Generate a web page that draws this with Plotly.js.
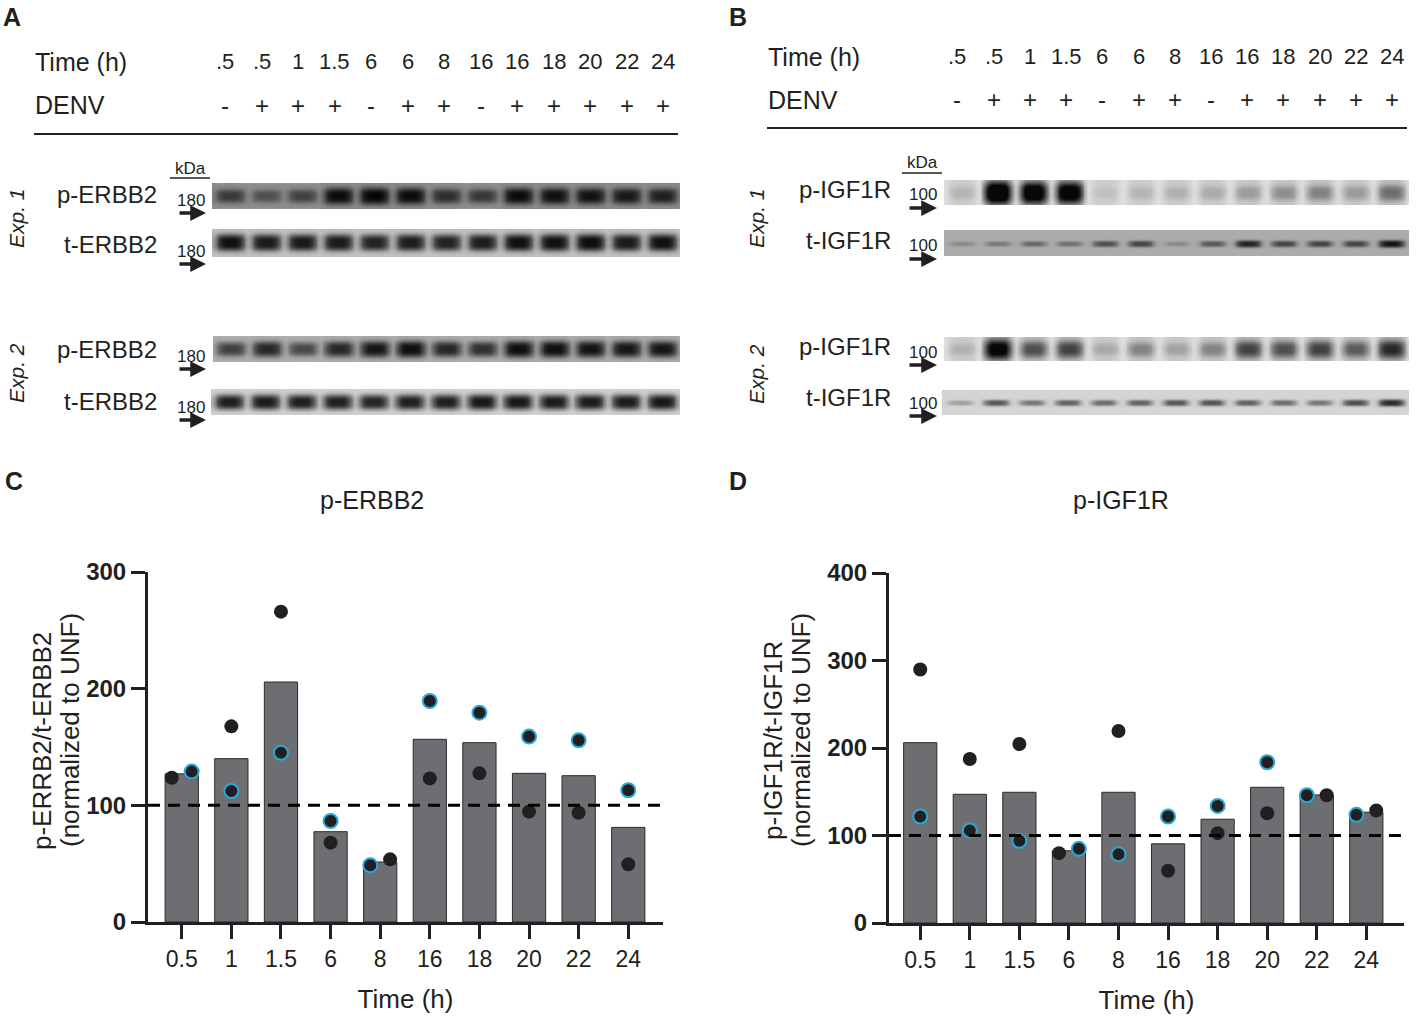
<!DOCTYPE html>
<html>
<head>
<meta charset="utf-8">
<script src="https://cdn.plot.ly/plotly-3.0.1.min.js"></script>
<style>html,body{margin:0;padding:0;background:#fff;}#chart{width:1417px;height:1021px;}</style>
</head>
<body>
<div id="chart"></div>
<script>
// ---------------- DATA ----------------
const laneTimes = ['.5','.5','1','1.5','6','6','8','16','16','18','20','22','24'];
const laneDenv  = ['-','+','+','+','-','+','+','-','+','+','+','+','+'];

// band intensities (0 = none, 1 = saturated), read from the blots
const erbbExp1P = [0.60,0.45,0.55,0.95,1.00,0.95,0.70,0.62,0.95,0.92,0.90,0.85,0.80];
const erbbExp1T = [0.95,0.90,0.90,0.90,0.85,0.88,0.85,0.88,0.95,0.95,0.97,0.90,0.95];
const erbbExp2P = [0.65,0.80,0.60,0.80,0.90,0.95,0.80,0.75,0.95,0.95,0.92,0.90,0.90];
const erbbExp2T = [0.88,0.90,0.88,0.88,0.85,0.88,0.88,0.92,0.92,0.90,0.90,0.90,0.92];
const igfExp1P  = [0.10,1.00,0.92,0.90,0.06,0.10,0.12,0.14,0.20,0.25,0.30,0.20,0.38];
const igfExp1T  = [0.20,0.30,0.40,0.35,0.55,0.62,0.20,0.50,0.82,0.62,0.62,0.62,0.92];
const igfExp2P  = [0.12,0.85,0.50,0.55,0.15,0.30,0.18,0.30,0.55,0.50,0.55,0.45,0.65];
const igfExp2T  = [0.25,0.60,0.45,0.55,0.50,0.55,0.60,0.62,0.55,0.50,0.45,0.65,0.82];

// quantification
const timeCats   = ['0.5','1','1.5','6','8','16','18','20','22','24'];
const erbbMean   = [127, 140, 205.7, 77.4, 51.4, 156.6, 153.7, 127.4, 125.4, 81.1];
const erbbBlack  = [123.7, 167.7, 266, 68, 53.7, 123.1, 127.4, 94.6, 93.7, 49.4];
const erbbCyan   = [128.9, 112.3, 145.1, 86.6, 48.6, 189.4, 179.4, 158.9, 155.7, 112.9];
const igfMean    = [206.1, 147.1, 149.4, 82.5, 149.4, 90.5, 118.6, 155.1, 146.4, 126.6];
const igfBlack   = [289.7, 187.5, 204.6, 79.8, 219.4, 59.7, 102.7, 125.5, 146, 128.5];
const igfCyan    = [121.7, 105.7, 93.9, 84.8, 78.7, 121.7, 133.8, 183.7, 146, 123.6];

// ---------------- HELPERS ----------------
const W = 1417, H = 1021;
const FONT = 'Liberation Sans, Arial, Helvetica, sans-serif';
const INK = '#231f20';
const px = x => x / W;
const py = y => 1 - y / H;

const annotations = [];
const shapes = [];
function txt(x, y, text, size, opts) {
  opts = opts || {};
  annotations.push(Object.assign({
    xref:'paper', yref:'paper', x:px(x), y:py(y), text:text, showarrow:false,
    xanchor:'center', yanchor:'middle',
    font:{family:FONT, size:size, color:INK}
  }, opts));
}
function hline(x0, x1, y, w) {
  shapes.push({type:'line', xref:'paper', yref:'paper', x0:px(x0), x1:px(x1), y0:py(y), y1:py(y),
               line:{color:INK, width:w}});
}
function arrow(xTail, xTip, y) {
  annotations.push({xref:'paper', yref:'paper', x:px(xTip), y:py(y), ax:xTail - xTip, ay:0,
    axref:'pixel', ayref:'pixel', text:'', showarrow:true, arrowhead:2, arrowsize:0.9,
    arrowwidth:3.5, arrowcolor:INK, standoff:0, startstandoff:0});
}

const traces = [];
const layout = {
  width:W, height:H, margin:{l:0, r:0, t:0, b:0},
  paper_bgcolor:'#ffffff', plot_bgcolor:'rgba(0,0,0,0)', showlegend:false,
  font:{family:FONT, color:INK}
};

// ---------------- BLOT STRIPS ----------------
const styles = {
  erbbP1: {bg:0.45, cy:0.47, wy:0.33, wx:0.42, smear:0.0},
  erbbP2: {bg:0.32, cy:0.47, wy:0.33, wx:0.42, smear:0.0},
  erbbT1: {bg:0.24, cy:0.47, wy:0.32, wx:0.42, smear:0.0},
  erbbT2: {bg:0.18, cy:0.47, wy:0.31, wx:0.42, smear:0.0},
  igfP:   {bg:0.12, cy:0.50, wy:0.42, wx:0.39, smear:0.20},
  igfT1:  {bg:0.33, cy:0.50, wy:0.15, wx:0.36, smear:0.0},
  igfT2:  {bg:0.17, cy:0.50, wy:0.15, wx:0.36, smear:0.0}
};
const strips = [
  {vals:erbbExp1P, st:styles.erbbP1, x0:212, x1:680, y0:183, y1:209},
  {vals:erbbExp1T, st:styles.erbbT1, x0:212, x1:680, y0:229, y1:257},
  {vals:erbbExp2P, st:styles.erbbP2, x0:213, x1:680, y0:336, y1:362},
  {vals:erbbExp2T, st:styles.erbbT2, x0:211, x1:680, y0:389, y1:415},
  {vals:igfExp1P,  st:styles.igfP,   x0:944, x1:1409, y0:180, y1:205},
  {vals:igfExp1T,  st:styles.igfT1,  x0:944, x1:1409, y0:230, y1:256},
  {vals:igfExp2P,  st:styles.igfP,   x0:944, x1:1409, y0:337, y1:361},
  {vals:igfExp2T,  st:styles.igfT2,  x0:942, x1:1409, y0:390, y1:415}
];

strips.forEach((s, k) => {
  const n = s.vals.length, sub = 20, ny = 26;
  const xs = [], ys = [], z = [];
  for (let i = 0; i < n * sub; i++) xs.push((i + 0.5) / sub);
  for (let j = 0; j < ny; j++) ys.push((j + 0.5) / ny);
  for (let j = 0; j < ny; j++) {
    const row = [];
    const fromTop = 1 - ys[j];
    for (let i = 0; i < xs.length; i++) {
      const lane = Math.min(n - 1, Math.floor(xs[i]));
      const I = s.vals[lane];
      const dx = xs[i] - (lane + 0.5);
      const wy = s.st.wy * (0.55 + 0.45 * I);
      const fx = Math.exp(-Math.pow(Math.abs(dx) / s.st.wx, 4));
      const fy = Math.exp(-Math.pow(Math.abs(fromTop - s.st.cy) / wy, 3));
      let d = I * fx * fy + s.st.smear * (0.4 + I) * fx;
      d = Math.min(1, d);
      row.push(s.st.bg + (1 - s.st.bg) * 0.97 * d);
    }
    z.push(row);
  }
  const ax = k + 3;
  traces.push({type:'heatmap', x:xs, y:ys, z:z, xaxis:'x' + ax, yaxis:'y' + ax,
    colorscale:[[0,'#ffffff'],[1,'#000000']], zmin:0, zmax:1, showscale:false,
    zsmooth:'best', hoverinfo:'skip'});
  layout['xaxis' + ax] = {domain:[px(s.x0), px(s.x1)], range:[0, n], visible:false,
    fixedrange:true, anchor:'y' + ax};
  layout['yaxis' + ax] = {domain:[py(s.y1), py(s.y0)], range:[0, 1], visible:false,
    fixedrange:true, anchor:'x' + ax};
});

// ---------------- BLOT TEXT ----------------
function blotPanel(cfg) {
  txt(cfg.left, cfg.timeY, 'Time (h)', 25, {xanchor:'left'});
  txt(cfg.left, cfg.denvY, 'DENV', 25, {xanchor:'left'});
  laneTimes.forEach((t, i) => txt(cfg.lx0 + i * cfg.lstep, cfg.timeY, t, 22));
  laneDenv.forEach((t, i) => txt(cfg.lx0 + i * cfg.lstep, cfg.denvY, t, 24));
  hline(cfg.left + 1, cfg.ruleX1, cfg.ruleY, 2.2);
  txt(cfg.kdaX, cfg.kdaY, 'kDa', 17);
  hline(cfg.kdaX - 20, cfg.kdaX + 20, cfg.kdaY + 10, 1.6);
  cfg.rows.forEach(r => {
    txt(cfg.labelR, r.y, r.label, 24, {xanchor:'right'});
    txt(cfg.kdaX + 1, r.y + 6, cfg.mw, 17);
    arrow(cfg.arrX0, cfg.arrX1, r.y + 19);
  });
  cfg.exps.forEach(e => txt(cfg.expX, e.y, '<i>' + e.t + '</i>', 21, {textangle:-90}));
}
blotPanel({left:33, timeY:62, denvY:105, lx0:225, lstep:36.5, ruleX1:678, ruleY:134,
  kdaX:190, kdaY:168, mw:'180', labelR:159, arrX0:178, arrX1:206,
  rows:[{y:194, label:'p-ERBB2'}, {y:245, label:'t-ERBB2'},
        {y:350, label:'p-ERBB2'}, {y:401, label:'t-ERBB2'}],
  expX:16, exps:[{y:218, t:'Exp. 1'}, {y:373, t:'Exp. 2'}]});
blotPanel({left:766, timeY:57, denvY:100, lx0:957.5, lstep:36.2, ruleX1:1407, ruleY:128,
  kdaX:922, kdaY:163, mw:'100', labelR:893, arrX0:908, arrX1:937,
  rows:[{y:189, label:'p-IGF1R'}, {y:240, label:'t-IGF1R'},
        {y:346, label:'p-IGF1R'}, {y:397, label:'t-IGF1R'}],
  expX:756, exps:[{y:218, t:'Exp. 1'}, {y:374, t:'Exp. 2'}]});

// panel letters
[['A',12,17],['B',738,17],['C',14,481],['D',738,481]].forEach(p =>
  txt(p[1], p[2], '<b>' + p[0] + '</b>', 25));

// ---------------- QUANT CHARTS ----------------
const jitterBlackC = [-0.2,0,0,0,0.2,0,0,0,0,0];
const jitterCyanC  = [0.2,0,0,0,-0.2,0,0,0,0,0];
const jitterBlackD = [0,0,0,-0.2,0,0,0,0,0.2,0.2];
const jitterCyanD  = [0,0,0,0.2,0,0,0,0,-0.2,-0.2];
const idx = timeCats.map((_, i) => i);

function quant(xa, ya, mean, blk, cyn, jb, jc) {
  traces.push({type:'bar', x:idx, y:mean, xaxis:xa, yaxis:ya, width:0.67,
    marker:{color:'#6d6e71', line:{color:'#2a2a2a', width:1}}, hoverinfo:'y'});
  traces.push({type:'scatter', mode:'markers', x:idx.map(i => i + jb[i]), y:blk,
    xaxis:xa, yaxis:ya, cliponaxis:false,
    marker:{size:14, color:INK, line:{color:INK, width:0}}});
  traces.push({type:'scatter', mode:'markers', x:idx.map(i => i + jc[i]), y:cyn,
    xaxis:xa, yaxis:ya, cliponaxis:false,
    marker:{size:14, color:INK, line:{color:'#29a8d8', width:2}}});
}
quant('x', 'y', erbbMean, erbbBlack, erbbCyan, jitterBlackC, jitterCyanC);
quant('x2', 'y2', igfMean, igfBlack, igfCyan, jitterBlackD, jitterCyanD);

function xAx(dom, rng, anchor) {
  return {domain:dom, range:rng, anchor:anchor, tickvals:idx, ticktext:timeCats,
    showline:true, linewidth:3, linecolor:INK, ticks:'outside', ticklen:14, tickwidth:3,
    tickcolor:INK, showgrid:false, zeroline:false, fixedrange:true,
    tickfont:{family:FONT, size:23, color:INK},
    title:{text:'Time (h)', font:{family:FONT, size:26, color:INK}, standoff:20}};
}
function yAx(dom, rng, dtick, anchor) {
  return {domain:dom, range:rng, anchor:anchor, dtick:dtick, tick0:0,
    showline:true, linewidth:3, linecolor:INK, ticks:'outside', ticklen:14, tickwidth:3,
    tickcolor:INK, showgrid:false, zeroline:false, fixedrange:true,
    tickfont:{family:FONT, size:24, color:INK, weight:'bold'}};
}
layout.xaxis  = xAx([px(148), px(663)], [-0.68, 9.70], 'y');
layout.yaxis  = yAx([py(922), py(572)], [0, 300], 100, 'x');
layout.xaxis2 = xAx([px(889), px(1404)], [-0.63, 9.76], 'y2');
layout.yaxis2 = yAx([py(923), py(573)], [0, 400], 100, 'x2');

// dashed reference lines at 100
[['x','y'],['x2','y2']].forEach(a => shapes.push({type:'line', xref:a[0] + ' domain', yref:a[1],
  x0:0, x1:0.995, y0:100, y1:100, line:{color:'#000', width:3, dash:'12px,8px'}, layer:'above'}));

// chart titles
txt(372, 500, 'p-ERBB2', 25);
txt(1121, 500, 'p-IGF1R', 25);
// y-axis titles (two lines each)
txt(42, 741, 'p-ERRB2/t-ERBB2', 26, {textangle:-90});
txt(70, 730, '(normalized to UNF)', 26, {textangle:-90});
txt(773, 741, 'p-IGF1R/t-IGF1R', 26, {textangle:-90});
txt(801, 730, '(normalized to UNF)', 26, {textangle:-90});

layout.annotations = annotations;
layout.shapes = shapes;

Plotly.newPlot('chart', traces, layout, {displayModeBar:false, staticPlot:true});
</script>
</body>
</html>
